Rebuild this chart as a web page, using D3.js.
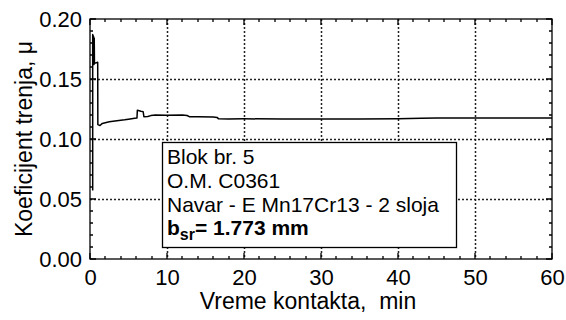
<!DOCTYPE html>
<html><head><meta charset="utf-8">
<script src="https://cdn.jsdelivr.net/npm/d3@7"></script>
</head>
<body style="margin:0">
<svg id="c" width="566" height="320" font-family="Liberation Sans, Arial, sans-serif"></svg>
<script>
// ---- data ----
const timeMin = [0.35,0.35,0.37,0.40,0.43,0.46,0.49,0.52,0.55,0.58,1.00,1.02,1.3,1.6,2.5,3.5,4.5,5.0,5.8,6.1,6.15,6.4,6.6,6.9,7.0,7.5,7.9,8.5,10,12,12.6,12.9,14,16,16.5,16.7,18,20,25,30,35,40,43,45,50,55,60];
const mu      = [0.057,0.187,0.186,0.162,0.186,0.163,0.185,0.162,0.184,0.163,0.164,0.112,0.1113,0.113,0.1143,0.1153,0.116,0.1165,0.1172,0.1175,0.124,0.1236,0.1232,0.1228,0.1186,0.1187,0.1195,0.1200,0.1198,0.1200,0.1196,0.1186,0.1185,0.1184,0.1180,0.1168,0.1167,0.1168,0.1167,0.1167,0.1167,0.1168,0.1172,0.1175,0.1175,0.1175,0.1175];
const xTicks = [0,10,20,30,40,50,60];
const yTicks = [0.00,0.05,0.10,0.15,0.20];
const xMinor = d3.range(0,60.001,2);
const yMinor = d3.range(0,0.2001,0.01);
const legendLines = ["Blok br. 5","O.M. C0361","Navar - E Mn17Cr13 - 2 sloja"];
const legendLast = {b:"b", sub:"sr", rest:"= 1.773 mm"};
const xTitle = "Vreme kontakta,  min";
const yTitle = "Koeficijent trenja, \u03bc";

// ---- layout ----
const L=90, R=552, T=19, B=259;
const svg = d3.select("#c");
const x = d3.scaleLinear().domain([0,60]).range([L,R]);
const y = d3.scaleLinear().domain([0,0.2]).range([B,T]);
const c = v => Math.round(v);

// grid (dotted) from the scales
const grid = svg.append("g");
grid.selectAll("line.gx").data(xTicks.filter(d=>d>0&&d<60)).join("line").attr("class","gx")
  .attr("x1",d=>c(x(d))+0.5).attr("x2",d=>c(x(d))+0.5).attr("y1",T).attr("y2",B)
  .attr("stroke","#222").attr("stroke-width",1.5).attr("stroke-dasharray","2,2");
grid.selectAll("line.gy").data(yTicks.filter(d=>d>0&&d<0.2)).join("line").attr("class","gy")
  .attr("x1",L).attr("x2",R).attr("y1",d=>c(y(d))+0.5).attr("y2",d=>c(y(d))+0.5)
  .attr("stroke","#222").attr("stroke-width",1.5).attr("stroke-dasharray","2,2");

// inward ticks (major 6px, minor 3px) on all four sides
const tk = [];
xMinor.forEach(v=>{ const len = Math.round(v)%10===0 ? 6 : 3;
  tk.push(`M${c(x(v))},${B}v${-len}`, `M${c(x(v))},${T}v${len}`); });
yMinor.forEach(v=>{ const len = Math.round(v*100)%5===0 ? 6 : 3;
  tk.push(`M${L},${c(y(v))}h${len}`, `M${R},${c(y(v))}h${-len}`); });
svg.append("path").attr("fill","none").attr("stroke","#000").attr("stroke-width",1.3).attr("d", tk.join(""));

// frame
svg.append("rect").attr("x",L).attr("y",T).attr("width",R-L).attr("height",B-T)
  .attr("fill","none").attr("stroke","#000").attr("stroke-width",1.3);

// tick labels via d3 axes
const ab = svg.append("g").attr("transform",`translate(0,${B})`)
  .call(d3.axisBottom(x).tickValues(xTicks).tickSize(0).tickPadding(10).tickFormat(d3.format("d")));
const al = svg.append("g").attr("transform",`translate(${L},0)`)
  .call(d3.axisLeft(y).tickValues(yTicks).tickSize(0).tickPadding(8).tickFormat(d3.format(".2f")));
[ab,al].forEach(a=>{ a.select(".domain").remove(); a.selectAll(".tick line").remove();
  a.attr("font-family",null).attr("font-size",null);
  a.selectAll(".tick text").attr("font-size",22).attr("fill","#000"); });

// data line
svg.append("path").datum(timeMin.map((t,i)=>[t,mu[i]]))
  .attr("fill","none").attr("stroke","#000").attr("stroke-width",1.5).attr("stroke-linejoin","round")
  .attr("d", d3.line().x(d=>x(d[0])).y(d=>y(d[1])));

// legend box
const lg = svg.append("g");
lg.append("rect").attr("x",162.5).attr("y",142.5).attr("width",294).attr("height",105)
  .attr("fill","#fff").attr("stroke","#000").attr("stroke-width",1.3);
const baselines=[164,188,212,235];
legendLines.forEach((s,i)=>{
  lg.append("text").attr("x",167).attr("y",baselines[i]).attr("font-size",21).text(s);
});
const lt = lg.append("text").attr("x",167).attr("y",baselines[3]).attr("font-size",21).attr("font-weight","bold");
lt.append("tspan").text(legendLast.b);
lt.append("tspan").attr("font-size",16).attr("dy",5).text(legendLast.sub);
lt.append("tspan").attr("dy",-5).text(legendLast.rest);

// titles
svg.append("text").attr("x",308).attr("y",309).attr("text-anchor","middle")
  .attr("font-size",23).style("white-space","pre").text(xTitle);
svg.append("text").attr("transform",`translate(32,${(T+B)/2}) rotate(-90)`).attr("text-anchor","middle")
  .attr("font-size",23).text(yTitle);
</script>
</body></html>
